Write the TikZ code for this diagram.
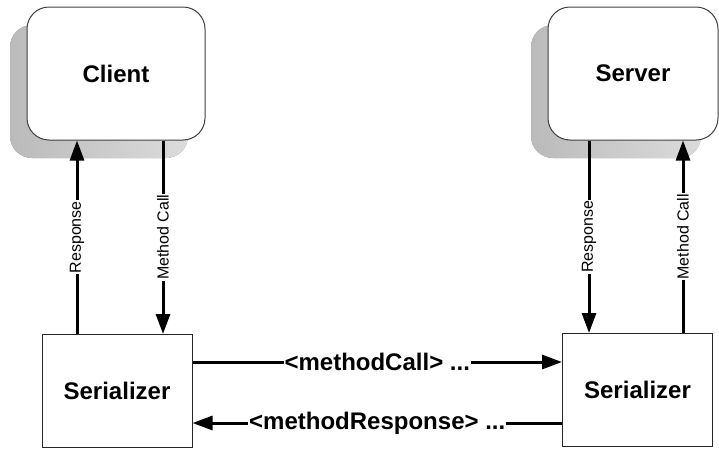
\documentclass[tikz,border=0pt]{standalone}
\usepackage{fontspec}
\setmainfont{Liberation Sans}
\usetikzlibrary{arrows.meta,shadows}

\begin{document}
\begin{tikzpicture}[x=1pt,y=-1pt,
	host/.style={draw=black!75,line width=1pt,fill=white,rounded corners=22pt,minimum width=178pt,minimum height=133pt,font=\fontsize{24}{28}\selectfont\bfseries,drop shadow={shadow xshift=-17pt,shadow yshift=-18pt,opacity=1,left color=black!27,right color=black!14}},
	serbox/.style={draw=black!85,line width=1pt,fill=white,minimum width=150pt,minimum height=113pt,font=\fontsize{24}{28}\selectfont\bfseries},
	flow/.style={line width=3pt,-{Triangle[length=20pt,width=14pt]}},
	vlab/.style={fill=white,rotate=90,inner sep=1pt,font=\fontsize{16}{18}\selectfont},
	hlab/.style={fill=white,inner sep=1pt,font=\fontsize{24}{28}\selectfont\bfseries}]
			\useasboundingbox (0,0) rectangle (719,450);
			\node[host] (client) at (116,73.5) {Client};
			\node[host,minimum width=170pt] (server) at (633,73.5) {Server};
			\node[serbox] (cser) at (117,391) {Serializer};
			\node[serbox] (sser) at (637.5,390) {Serializer};
			\coordinate (crsp) at (77,0);
			\coordinate (ccall) at (163,0);
			\coordinate (srsp) at (589,0);
			\coordinate (scall) at (683,0);
			\coordinate (callrow) at (0,362);
			\coordinate (rsprow) at (0,423);
			\draw[flow] (cser.north -| crsp) -- node[vlab] {Response} (client.south -| crsp);
			\draw[flow] (client.south -| ccall) -- node[vlab] {Method Call} (cser.north -| ccall);
			\draw[flow] (server.south -| srsp) -- node[vlab] {Response} (sser.north -| srsp);
			\draw[flow] (sser.north -| scall) -- node[vlab] {Method Call} (server.south -| scall);
			\draw[flow] (cser.east |- callrow) -- node[hlab] {<methodCall> ...} (sser.west |- callrow);
			\draw[flow] (sser.west |- rsprow) -- node[hlab] {<methodResponse> ...} (cser.east |- rsprow);
		\end{tikzpicture}
\end{document}
